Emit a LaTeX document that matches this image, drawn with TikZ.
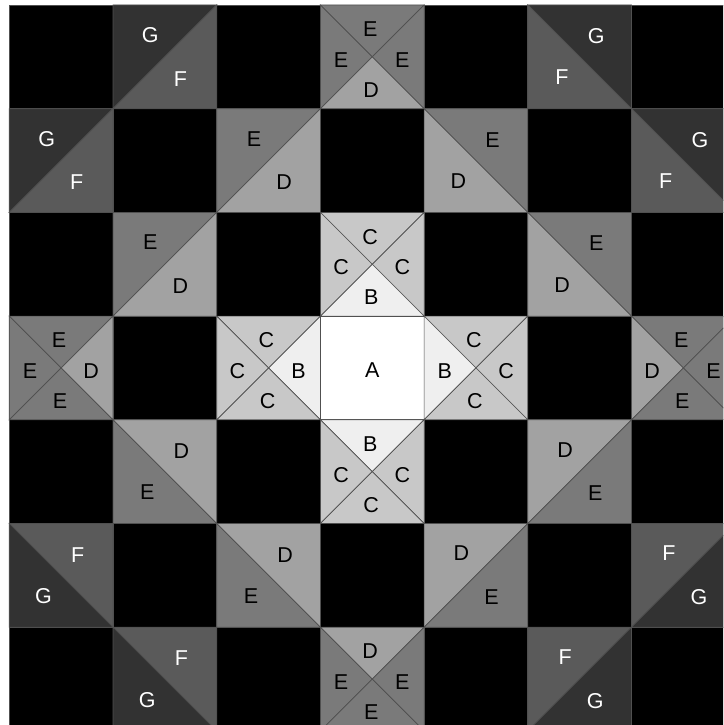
\documentclass[tikz,border=0pt]{standalone}
\usepackage{fontspec}
\setmainfont{Liberation Sans}
\definecolor{cA}{HTML}{FFFFFF}
\definecolor{cB}{HTML}{EFEFEF}
\definecolor{cC}{HTML}{C8C8C8}
\definecolor{cD}{HTML}{A2A2A2}
\definecolor{cE}{HTML}{7A7A7A}
\definecolor{cF}{HTML}{5A5A5A}
\definecolor{cG}{HTML}{323232}
\colorlet{tA}{black}
\colorlet{tB}{black}
\colorlet{tC}{black}
\colorlet{tD}{black}
\colorlet{tE}{black}
\colorlet{tF}{white}
\colorlet{tG}{white}
\definecolor{edgegray}{HTML}{505050}
\newcommand\qcs{103.7}
\newcommand\qhalfTL[4]{%
  \begin{scope}[shift={(9.3+#1*103.7,5+#2*103.7)}]
    \filldraw[fill=c#3, edge] (0,0) -- (\qcs,0) -- (0,\qcs) -- cycle;
    \filldraw[fill=c#4, edge] (\qcs,0) -- (\qcs,\qcs) -- (0,\qcs) -- cycle;
    \node[lab, text=t#3] at (0.36*\qcs,0.29*\qcs) {#3};
    \node[lab, text=t#4] at (0.65*\qcs,0.71*\qcs) {#4};
  \end{scope}}
\newcommand\qhalfTR[4]{%
  \begin{scope}[shift={(9.3+#1*103.7,5+#2*103.7)}]
    \filldraw[fill=c#3, edge] (0,0) -- (\qcs,0) -- (\qcs,\qcs) -- cycle;
    \filldraw[fill=c#4, edge] (0,0) -- (\qcs,\qcs) -- (0,\qcs) -- cycle;
    \node[lab, text=t#3] at (0.66*\qcs,0.30*\qcs) {#3};
    \node[lab, text=t#4] at (0.33*\qcs,0.70*\qcs) {#4};
  \end{scope}}
% top, left, right, bottom
\newcommand\qcross[6]{%
  \begin{scope}[shift={(9.3+#1*103.7,5+#2*103.7)}]
    \filldraw[fill=c#3, edge] (0,0) -- (\qcs,0) -- (0.5*\qcs,0.5*\qcs) -- cycle;
    \filldraw[fill=c#4, edge] (0,0) -- (0.5*\qcs,0.5*\qcs) -- (0,\qcs) -- cycle;
    \filldraw[fill=c#5, edge] (\qcs,0) -- (\qcs,\qcs) -- (0.5*\qcs,0.5*\qcs) -- cycle;
    \filldraw[fill=c#6, edge] (0,\qcs) -- (0.5*\qcs,0.5*\qcs) -- (\qcs,\qcs) -- cycle;
    \node[lab, text=t#3] at (0.48*\qcs,0.235*\qcs) {#3};
    \node[lab, text=t#4] at (0.20*\qcs,0.53*\qcs) {#4};
    \node[lab, text=t#5] at (0.79*\qcs,0.53*\qcs) {#5};
    \node[lab, text=t#6] at (0.49*\qcs,0.82*\qcs) {#6};
  \end{scope}}
\begin{document}
\begin{tikzpicture}[x=1pt,y=-1pt,
  edge/.style={draw=edgegray, line width=0.7pt, line join=miter},
  lab/.style={font=\fontsize{21.5}{22}\selectfont, inner sep=0pt}]
\useasboundingbox (0,0) rectangle (723,725);
\fill[white] (0,0) rectangle (723,725);
\clip (0,0) rectangle (723,725);
% black background cells
\foreach \i in {0,...,6}{
  \foreach \j in {0,...,6}{
    \filldraw[fill=black, edge] (9.3+\i*103.7,5+\j*103.7) rectangle ++(103.7,103.7);
  }}
% row 0
\qhalfTL{1}{0}{G}{F}
\qcross{3}{0}{E}{E}{E}{D}
\qhalfTR{5}{0}{G}{F}
% row 1
\qhalfTL{0}{1}{G}{F}
\qhalfTL{2}{1}{E}{D}
\qhalfTR{4}{1}{E}{D}
\qhalfTR{6}{1}{G}{F}
% row 2
\qhalfTL{1}{2}{E}{D}
\qcross{3}{2}{C}{C}{C}{B}
\qhalfTR{5}{2}{E}{D}
% row 3
\qcross{0}{3}{E}{E}{D}{E}
\qcross{2}{3}{C}{C}{B}{C}
\begin{scope}[shift={(9.3+3*103.7,5+3*103.7)}]
  \filldraw[fill=cA, edge] (0,0) rectangle (\qcs,\qcs);
  \node[lab] (A) at (0.5*\qcs,0.52*\qcs) {A};
\end{scope}
\qcross{4}{3}{C}{B}{C}{C}
\qcross{6}{3}{E}{D}{E}{E}
% row 4
\qhalfTR{1}{4}{D}{E}
\qcross{3}{4}{B}{C}{C}{C}
\qhalfTL{5}{4}{D}{E}
% row 5
\qhalfTR{0}{5}{F}{G}
\qhalfTR{2}{5}{D}{E}
\qhalfTL{4}{5}{D}{E}
\qhalfTL{6}{5}{F}{G}
% row 6
\qhalfTR{1}{6}{F}{G}
\qcross{3}{6}{D}{E}{E}{E}
\qhalfTL{5}{6}{F}{G}
\end{tikzpicture}
\end{document}
